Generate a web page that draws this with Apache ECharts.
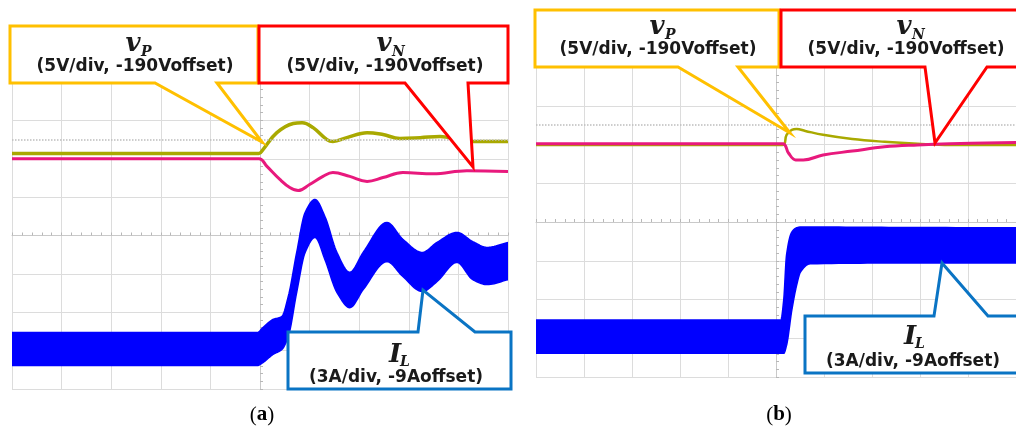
<!DOCTYPE html>
<html><head><meta charset="utf-8">
<script src="https://cdn.jsdelivr.net/npm/echarts@6/dist/echarts.min.js"></script>
<style>html,body{margin:0;padding:0;background:#fff}#c{width:1016px;height:433px}</style>
</head><body><div id="c"></div>
<script>
// Units: oscilloscope divisions (x: -5..5, y: -4..4), trigger at x = 0
const vP_a = [[-5,2.14],[-2.5,2.14],[-0.02,2.14],[0.06,2.24],[0.34,2.68],[0.67,2.92],[0.85,2.94],[1.07,2.81],[1.35,2.5],[1.47,2.45],[1.75,2.55],[2.16,2.68],[2.48,2.63],[2.82,2.53],[3.23,2.55],[3.63,2.58],[4.17,2.45],[5,2.45]];
const vN_a = [[-5,2.0],[-2.5,2.0],[-0.02,2.0],[0.14,1.8],[0.4,1.46],[0.6,1.25],[0.77,1.17],[1.0,1.33],[1.27,1.54],[1.47,1.64],[1.81,1.54],[2.16,1.41],[2.48,1.51],[2.88,1.64],[3.49,1.61],[4.17,1.69],[5,1.67]];
const IL_a_x   = [-5,-0.06,0.06,0.26,0.44,0.57,0.74,0.91,1.11,1.31,1.55,1.81,2.08,2.56,2.88,3.27,3.57,3.97,4.29,4.58,5];
const IL_a_top = [-2.53,-2.53,-2.4,-2.19,-2.11,-1.59,-0.44,0.6,0.94,0.49,-0.44,-0.96,-0.44,0.34,-0.1,-0.44,-0.18,0.08,-0.16,-0.31,-0.18];
const IL_a_bot = [-3.39,-3.39,-3.31,-3.1,-2.97,-2.63,-1.48,-0.44,-0.05,-0.63,-1.48,-1.88,-1.41,-0.68,-1.07,-1.46,-1.2,-0.7,-1.15,-1.28,-1.15];

const vP_b = [[-5,1.99],[-2.5,1.99],[0.14,1.99],[0.22,2.25],[0.33,2.38],[0.43,2.40],[0.61,2.35],[0.98,2.25],[1.59,2.14],[2.26,2.07],[2.95,2.02],[3.62,1.99],[5,1.99]];
const vN_b = [[-5,2.02],[-2.5,2.02],[0.14,2.02],[0.26,1.78],[0.41,1.6],[0.57,1.6],[0.98,1.73],[1.59,1.83],[2.26,1.94],[2.95,1.99],[3.62,2.02],[5,2.05]];
const IL_b_x   = [-5,0.1,0.16,0.22,0.33,0.43,0.51,0.71,2.5,5];
const IL_b_top = [-2.53,-2.53,-2.02,-0.85,-0.26,-0.15,-0.13,-0.13,-0.14,-0.15];
const IL_b_bot = [-3.39,-3.39,-3.39,-3.18,-2.27,-1.63,-1.29,-1.08,-1.06,-1.06];

const refLevel = 2.5;
const panelLabels = ['a','b'];

const gridCol = '#dcdcdc';
function mkAxis(i, lo, hi){
  return {type:'value', gridIndex:i, min:lo, max:hi, interval:1,
    axisLabel:{show:false},
    axisLine:{show:true,onZero:true,lineStyle:{color:'#c9c9c9',width:1}},
    axisTick:{show:true,inside:true,length:3,lineStyle:{color:'#b8b8b8'}},
    minorTick:{show:true,splitNumber:5,length:3,lineStyle:{color:'#b8b8b8'}},
    splitLine:{show:true,lineStyle:{color:gridCol,width:1}}};
}
function zip(xs, ys){ return xs.map((x,k)=>[x, ys[k]]); }

// monotone cubic curve (pixel space) through the band edge readings, sampled into a polyline
function monoCurve(p){
  const n = p.length, h = [], s = [], m = [];
  for (let k=0;k<n-1;k++){ h[k]=p[k+1][0]-p[k][0]; s[k]=(p[k+1][1]-p[k][1])/(h[k]||1e-6); }
  m[0]=s[0]; m[n-1]=s[n-2];
  for (let k=1;k<n-1;k++){
    if (s[k-1]*s[k] <= 0) m[k]=0;
    else m[k] = 3*(h[k-1]+h[k])/((2*h[k]+h[k-1])/s[k-1] + (h[k]+2*h[k-1])/s[k]);
  }
  const out=[p[0]];
  for (let k=0;k<n-1;k++){
    const d=h[k]/3;
    const P0=p[k], P1=[p[k][0]+d, p[k][1]+m[k]*d], P2=[p[k+1][0]-d, p[k+1][1]-m[k+1]*d], P3=p[k+1];
    const N=12;
    for (let j=1;j<=N;j++){
      const t=j/N, u=1-t;
      const a=u*u*u, b=3*u*u*t, c=3*u*t*t, e=t*t*t;
      out.push([a*P0[0]+b*P1[0]+c*P2[0]+e*P3[0], a*P0[1]+b*P1[1]+c*P2[1]+e*P3[1]]);
    }
  }
  return out;
}
function band(i, up, lo){
  return {type:'custom', xAxisIndex:i, yAxisIndex:i, data:[[0,0]], silent:true, z:2, clip:true,
    renderItem:function(params, api){
      const U = monoCurve(up.map(p=>api.coord(p)));
      const L = monoCurve(lo.map(p=>api.coord(p)));
      const pts = U.concat(L.reverse());
      return {type:'polygon', shape:{points:pts},
        style:{fill:'#0000ff', stroke:'#0000ff', lineWidth:1.5}};
    }};
}
function trace(i, data, color, w, z, mark){
  const s = {type:'line', xAxisIndex:i, yAxisIndex:i, data:data, smooth:0.4, symbol:'none', z:z,
    lineStyle:{color:color, width:w}, silent:true};
  if (mark) s.markLine = {silent:true, symbol:'none', label:{show:false},
    lineStyle:{color:'#bdbdbd', type:'dotted', width:1.5}, data:[{yAxis:refLevel}]};
  return s;
}

const olive = '#a9a900', magenta = '#e8197d';
const YEL = '#ffc000', RED = '#ff0000', BLU = '#0a74c4';

function callout(points, color){
  return {type:'polygon', z:100, shape:{points:points}, style:{fill:'#fff', stroke:color, lineWidth:3}};
}
function txt(x, y, s, font, align){
  return {type:'text', z:101, x:x, y:y, style:{text:s, font:font, fill:'#1a1a1a', align:align||'center', verticalAlign:'middle'}};
}
const SYM = 'italic bold 26px "DejaVu Serif"', SUB = 'italic bold 14px "DejaVu Serif"', LAB = 'bold 17px "DejaVu Sans"';

const graphics = [
  callout([[10,26],[258,26],[258,83],[217,83],[262,142],[155,83],[10,83]], YEL),
  callout([[259,26],[508,26],[508,83],[468,83],[473,167],[405,83],[259,83]], RED),
  callout([[288,332],[418,332],[423,290],[475,332],[511,332],[511,389],[288,389]], BLU),
  callout([[535,10],[779,10],[779,67],[738,67],[790,133],[678,67],[535,67]], YEL),
  callout([[781,10],[1022,10],[1022,67],[987,67],[935,143],[925,67],[781,67]], RED),
  callout([[805,316],[934,316],[942,263],[988,316],[1022,316],[1022,373],[805,373]], BLU),
  txt(133,44,'v',SYM), txt(141,52,'P',SUB,'left'), txt(135,67,'(5V/div, -190Voffset)',LAB),
  txt(384,44,'v',SYM), txt(392,52,'N',SUB,'left'), txt(385,67,'(5V/div, -190Voffset)',LAB),
  txt(395,355,'I',SYM), txt(400,362,'L',SUB,'left'), txt(396,378,'(3A/div, -9Aoffset)',LAB),
  txt(657,27,'v',SYM), txt(665,35,'P',SUB,'left'), txt(658,50,'(5V/div, -190Voffset)',LAB),
  txt(904,27,'v',SYM), txt(912,35,'N',SUB,'left'), txt(906,50,'(5V/div, -190Voffset)',LAB),
  txt(910,337,'I',SYM), txt(915,344,'L',SUB,'left'), txt(913,362,'(3A/div, -9Aoffset)',LAB),
  {type:'text', z:101, x:262, y:415, style:{text:'({b|'+panelLabels[0]+'})', font:'21px "Liberation Serif"', fill:'#000', align:'center', verticalAlign:'middle', rich:{b:{font:'bold 21px "Liberation Serif"', fill:'#000'}}}},
  {type:'text', z:101, x:779, y:415, style:{text:'({b|'+panelLabels[1]+'})', font:'21px "Liberation Serif"', fill:'#000', align:'center', verticalAlign:'middle', rich:{b:{font:'bold 21px "Liberation Serif"', fill:'#000'}}}}
];

const chart = echarts.init(document.getElementById('c'), null, {renderer:'canvas'});
chart.setOption({
  animation:false,
  backgroundColor:'#fff',
  grid:[{left:12, top:82, width:496, height:307}, {left:536, top:67, width:492, height:310}],
  xAxis:[mkAxis(0,-5,5), mkAxis(1,-5,5)],
  yAxis:[mkAxis(0,-4,4), mkAxis(1,-4,4)],
  series:[
    band(0, zip(IL_a_x, IL_a_top), zip(IL_a_x, IL_a_bot)),
    trace(0, vP_a, olive, 3.5, 3, true),
    trace(0, vN_a, magenta, 3, 4, false),
    band(1, zip(IL_b_x, IL_b_top), zip(IL_b_x, IL_b_bot)),
    trace(1, vP_b, olive, 2.5, 3, true),
    trace(1, vN_b, magenta, 3, 4, false)
  ],
  graphic: graphics
});
</script></body></html>
